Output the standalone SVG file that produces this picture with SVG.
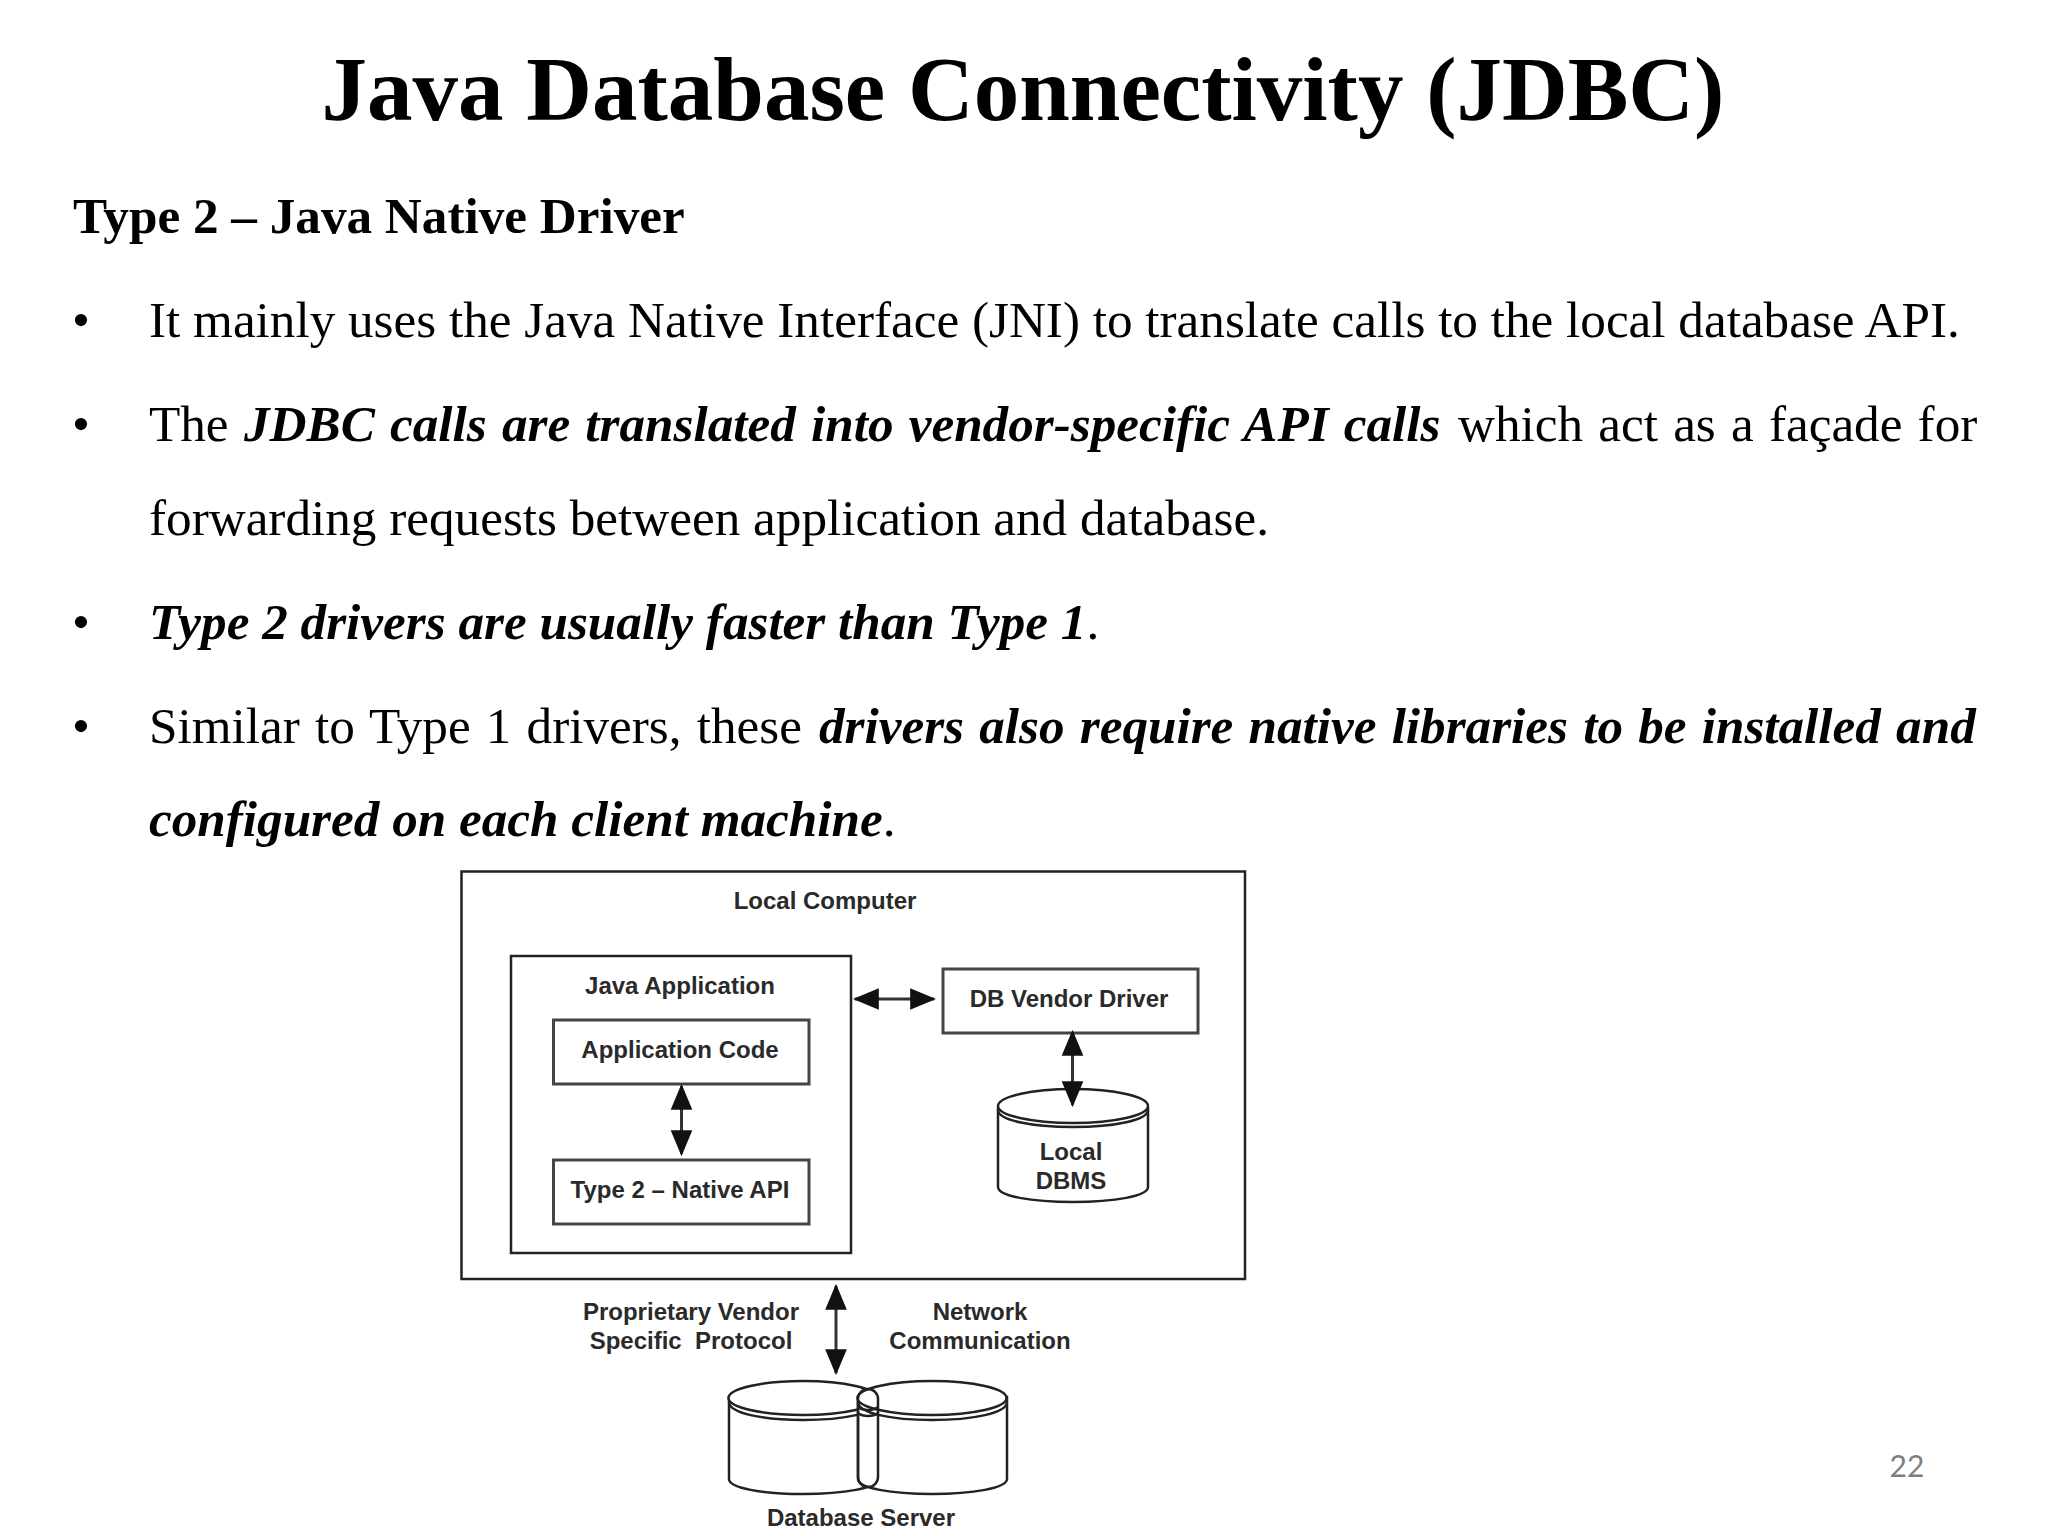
<svg xmlns="http://www.w3.org/2000/svg" width="2048" height="1536" viewBox="0 0 2048 1536">
<style>
.t{font-family:"Liberation Serif","Times New Roman",serif;fill:#000;font-size:51.2px}
.j{word-spacing:2.4px}
.b{font-weight:700}
.bi{font-weight:700;font-style:italic}
.l{font-family:"Liberation Sans",Arial,sans-serif;font-weight:700;font-size:24px;fill:#2a2a2a;text-anchor:middle}
.box{fill:#fff;stroke:#222;stroke-width:2.5}
.inner{fill:#fff;stroke:#444;stroke-width:3}
.cyl{fill:#fff;stroke:#222;stroke-width:2.5}
.cl{fill:none;stroke:#222;stroke-width:2.5}
.conn{fill:none;stroke:#333;stroke-width:3;marker-start:url(#a);marker-end:url(#a)}
</style>
<defs>
<marker id="a" viewBox="0 0 12 12" refX="11" refY="6" markerWidth="26" markerHeight="26" markerUnits="userSpaceOnUse" orient="auto-start-reverse"><path d="M0 1 L12 6 L0 11 Z" fill="#111"/></marker>
</defs>
<rect width="2048" height="1536" fill="#fff"/>
<g id="slide-text">
<text class="t b" x="1023" y="120" text-anchor="middle" style="font-size:91px">Java Database Connectivity (JDBC)</text>
<text class="t b" x="73" y="233">Type 2 – Java Native Driver</text>
<text class="t" x="72" y="337">•</text>
<text class="t" x="149" y="337">It mainly uses the Java Native Interface (JNI) to translate calls to the local database API.</text>
<text class="t" x="72" y="441">•</text>
<text class="t j" x="149" y="441">The<tspan class="bi" x="244">JDBC calls are translated into vendor-specific API calls</tspan><tspan x="1458">which act as a façade for</tspan></text>
<text class="t" x="149" y="535">forwarding requests between application and database.</text>
<text class="t" x="72" y="639">•</text>
<text class="t" x="149" y="639"><tspan class="bi">Type 2 drivers are usually faster than Type 1</tspan>.</text>
<text class="t" x="72" y="743">•</text>
<text class="t j" x="149" y="743">Similar to Type 1 drivers, these<tspan class="bi" x="819">drivers also require native libraries to be installed and</tspan></text>
<text class="t" x="149" y="836"><tspan class="bi">configured on each client machine</tspan>.</text>
<text x="1907" y="1477" text-anchor="middle" style="font-family:Lato,'Open Sans',sans-serif;font-size:30px;fill:#7f7f7f">22</text>
</g>
<g id="local-computer"><rect class="box" x="461.5" y="871.5" width="783.5" height="407.5"/><text class="l" x="825" y="909">Local Computer</text></g>
<g id="java-application"><rect class="box" x="511" y="956" width="340" height="297"/><text class="l" x="680" y="994">Java Application</text></g>
<g id="application-code"><rect class="inner" x="553.5" y="1020" width="255.5" height="64"/><text class="l" x="680" y="1058">Application Code</text></g>
<g id="type2-native-api"><rect class="inner" x="553.5" y="1160" width="255.5" height="64"/><text class="l" x="680" y="1198">Type 2 – Native API</text></g>
<g id="db-vendor-driver"><rect class="inner" x="943" y="969" width="255" height="64"/><text class="l" x="1069" y="1007">DB Vendor Driver</text></g>
<g id="local-dbms">
<path class="cyl" d="M998 1108 V1187 C998 1196 1031 1202 1073 1202 C1115 1202 1148 1196 1148 1187 V1108 Z"/>
<ellipse class="cyl" cx="1073" cy="1106" rx="75" ry="17"/>
<path class="cl" d="M998 1110 C998 1120 1031 1127 1073 1127 C1115 1127 1148 1120 1148 1110"/>
<text class="l" x="1071" y="1160">Local</text><text class="l" x="1071" y="1189">DBMS</text>
</g>
<g id="database-server">
<path class="cyl" d="M729 1397 V1479 C729 1488 762 1494 803 1494 C844 1494 878 1488 878 1479 V1397 Z"/>
<ellipse class="cyl" cx="803" cy="1398" rx="74.5" ry="17"/>
<path class="cl" d="M729 1402 C729 1413 762 1420 803 1420 C844 1420 878 1413 878 1402"/>
<path class="cyl" d="M858 1397 V1479 C858 1488 891 1494 932 1494 C973 1494 1007 1488 1007 1479 V1397 Z"/>
<ellipse class="cyl" cx="932" cy="1398" rx="74.5" ry="17"/>
<path class="cl" d="M858 1402 C858 1413 891 1420 932 1420 C973 1420 1007 1413 1007 1402"/>
<rect class="cl" x="858" y="1389" width="20" height="98" rx="10"/>
<path class="cl" d="M858 1407 C863 1411 873 1411 878 1407 M858 1413 C863 1417 873 1417 878 1413"/>
<text class="l" x="861" y="1526">Database Server</text>
</g>
<g id="labels">
<text class="l" x="691" y="1320">Proprietary Vendor</text><text class="l" x="691" y="1349" xml:space="preserve">Specific  Protocol</text>
<text class="l" x="980" y="1320">Network</text><text class="l" x="980" y="1349">Communication</text>
</g>
<g id="connectors">
<path class="conn" d="M855 999 H934"/>
<path class="conn" d="M681.5 1086 V1154"/>
<path class="conn" d="M1072.5 1032 V1105"/>
<path class="conn" d="M836 1286 V1373"/>
</g>
</svg>
